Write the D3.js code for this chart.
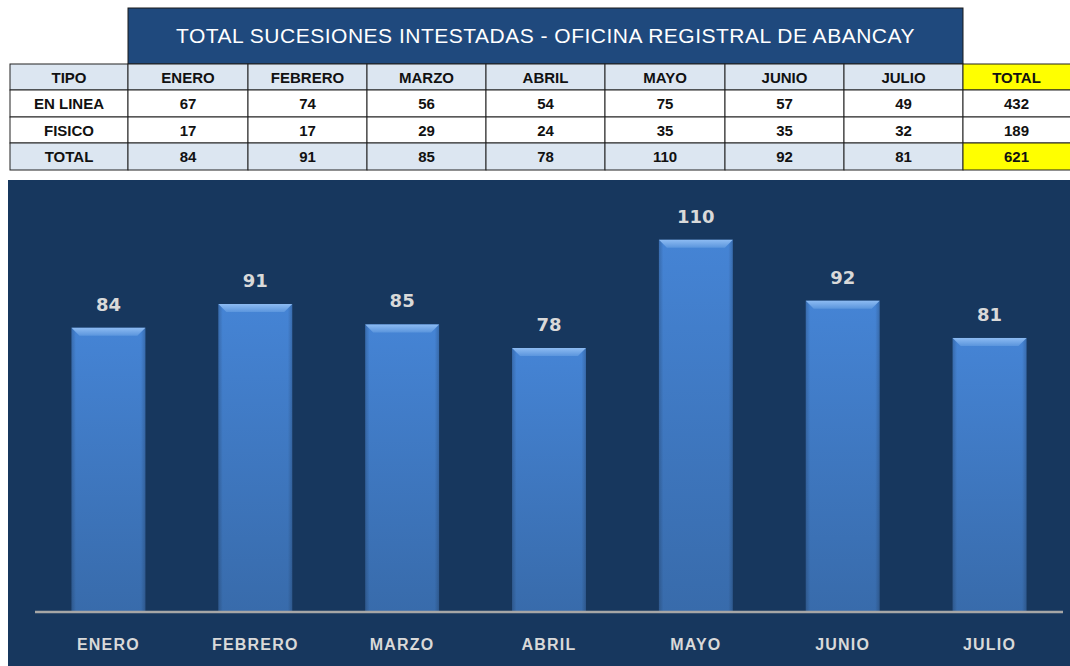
<!DOCTYPE html>
<html><head><meta charset="utf-8">
<script src="https://cdn.jsdelivr.net/npm/d3@7"></script>
<style>
html,body{margin:0;padding:0;background:#fff;}
svg{display:block;}
</style></head>
<body>
<svg id="c" width="1070" height="666"></svg>
<script>
const title = "TOTAL SUCESIONES INTESTADAS - OFICINA REGISTRAL DE ABANCAY";
const months = ["ENERO","FEBRERO","MARZO","ABRIL","MAYO","JUNIO","JULIO"];
const enLinea = [67,74,56,54,75,57,49];
const fisico = [17,17,29,24,35,35,32];
const totals = [84,91,85,78,110,92,81];
const rowNames = ["EN LINEA","FISICO","TOTAL"];
const headFirst = "TIPO";
const headTotal = "TOTAL";
const yTicks = [0,120];

const svg = d3.select("#c");
const W = 1070, H = 666;
const FONT = "'Liberation Sans', Arial, sans-serif";

// ---------- Table ----------
const cols = [headFirst, ...months, headTotal];
const colX = [10,128,248,367,486,605,725,844,963,1072];
const rowY = [64,90,117,143,170];
const sum = a => d3.sum(a);
const rows = [
  [headFirst, ...months, headTotal],
  [rowNames[0], ...enLinea, sum(enLinea)],
  [rowNames[1], ...fisico, sum(fisico)],
  [rowNames[2], ...totals, sum(totals)]
];

// title box
svg.append("rect").attr("x",colX[1]).attr("y",8).attr("width",colX[8]-colX[1]).attr("height",56)
  .attr("fill","#1F497D").attr("stroke","#1a1a1a").attr("stroke-width",1);
svg.append("text").attr("x",(colX[1]+colX[8])/2).attr("y",43).attr("text-anchor","middle")
  .attr("font-family",FONT).attr("font-size",21).attr("fill","#fff").attr("letter-spacing",0.5)
  .text(title);

const tbl = svg.append("g");
rows.forEach((r,ri)=>{
  r.forEach((v,ci)=>{
    let fill = "#fff";
    if(ri===0 || ri===3) fill = "#DCE6F1";
    if(ci===cols.length-1 && (ri===0 || ri===3)) fill = "#FFFF00";
    tbl.append("rect").attr("x",colX[ci]).attr("y",rowY[ri])
      .attr("width",colX[ci+1]-colX[ci]).attr("height",rowY[ri+1]-rowY[ri])
      .attr("fill",fill).attr("stroke","#222").attr("stroke-width",1);
    tbl.append("text").attr("x",(colX[ci]+Math.min(colX[ci+1],1070))/2).attr("y",(rowY[ri]+rowY[ri+1])/2+5.5)
      .attr("text-anchor","middle").attr("font-family",FONT).attr("font-weight","bold")
      .attr("font-size",15).attr("fill","#111").text(v);
  });
});

// ---------- Chart ----------
const chartTop = 180, chartLeft = 8;
svg.append("rect").attr("x",chartLeft).attr("y",chartTop).attr("width",W-chartLeft).attr("height",H-chartTop)
  .attr("fill","#17375E");

const x = d3.scaleBand().domain(months).range([35,1063]).paddingInner(0.497).paddingOuter(0.2485);
const y = d3.scaleLinear().domain([yTicks[0], yTicks[1]]).range([612,206]);

const defs = svg.append("defs");
const g1 = defs.append("linearGradient").attr("id","barG").attr("x1",0).attr("y1",0).attr("x2",0).attr("y2",1);
g1.append("stop").attr("offset","0%").attr("stop-color","#4584D5");
g1.append("stop").attr("offset","100%").attr("stop-color","#386BAB");
const g2 = defs.append("linearGradient").attr("id","sideG").attr("x1",0).attr("y1",0).attr("x2",1).attr("y2",0);
g2.append("stop").attr("offset","0%").attr("stop-color","#000").attr("stop-opacity",0.18);
g2.append("stop").attr("offset","6%").attr("stop-color","#000").attr("stop-opacity",0);
g2.append("stop").attr("offset","94%").attr("stop-color","#000").attr("stop-opacity",0);
g2.append("stop").attr("offset","100%").attr("stop-color","#000").attr("stop-opacity",0.18);
const g3 = defs.append("linearGradient").attr("id","bevG").attr("x1",0).attr("y1",0).attr("x2",0).attr("y2",1);
g3.append("stop").attr("offset","0%").attr("stop-color","#8DBBF2");
g3.append("stop").attr("offset","100%").attr("stop-color","#5A95DD");

const bars = svg.append("g").selectAll("g").data(months.map((m,i)=>({m,v:totals[i]}))).join("g");
bars.append("rect").attr("x",d=>x(d.m)).attr("y",d=>y(d.v)).attr("width",x.bandwidth())
  .attr("height",d=>y(0)-y(d.v)).attr("fill","url(#barG)");
bars.append("rect").attr("x",d=>x(d.m)).attr("y",d=>y(d.v)).attr("width",x.bandwidth())
  .attr("height",d=>y(0)-y(d.v)).attr("fill","url(#sideG)");
// top bevel
bars.append("path").attr("d",d=>{
  const x0=x(d.m), x1=x0+x.bandwidth(), t=y(d.v), b=8;
  return `M${x0},${t}L${x1},${t}L${x1-b},${t+b}L${x0+b},${t+b}Z`;
}).attr("fill","url(#bevG)");

// value labels
bars.append("text").attr("x",d=>x(d.m)+x.bandwidth()/2).attr("y",d=>y(d.v)-17)
  .attr("text-anchor","middle").attr("font-family","'DejaVu Sans', sans-serif").attr("font-weight","bold")
  .attr("font-size",18).attr("fill","#D9D9D9").text(d=>d.v);

// baseline axis
const axis = svg.append("g").attr("transform",`translate(0,${y(0)})`)
  .call(d3.axisBottom(x).tickSize(0).tickPadding(0));
axis.select(".domain").attr("stroke","#A6A6A6").attr("stroke-width",2.5)
  .attr("d","M35,0H1063");
axis.selectAll(".tick text").attr("y",38).attr("dy",0).attr("font-family",FONT).attr("font-weight","bold")
  .attr("font-size",16).attr("fill","#D9D9D9").attr("letter-spacing",1.2);
</script>
</body></html>
